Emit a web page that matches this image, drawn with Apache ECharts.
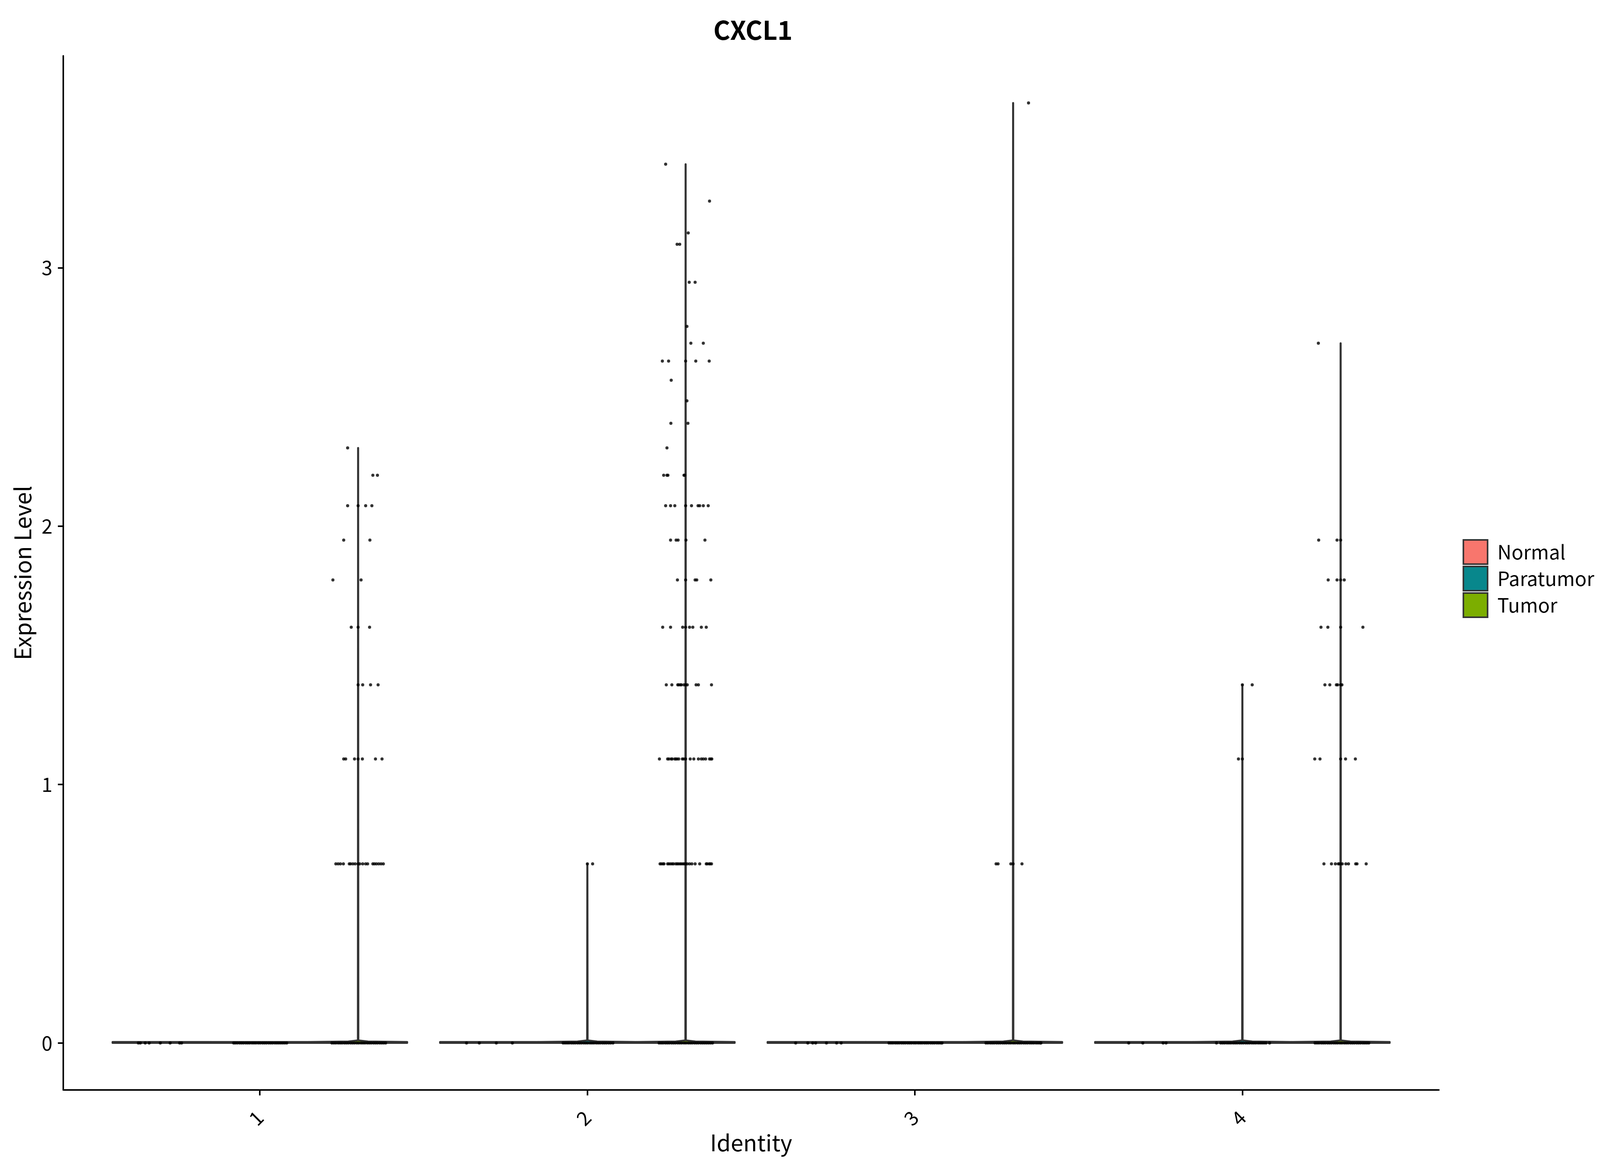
<!DOCTYPE html>
<html>
<head>
<meta charset="utf-8">
<title>CXCL1</title>
<script src="https://cdn.jsdelivr.net/npm/echarts@6/dist/echarts.min.js"></script>
<style>
    html, body { margin: 0; padding: 0; background: #fff; overflow: hidden; }
    #chart { width: 100vw; height: 100vh; }
</style>
</head>
<body>
<div id="chart"></div>
<script>
// 分組與顏色
var identities = ['1', '2', '3', '4'];
var groups = ['Normal', 'Paratumor', 'Tumor'];
var groupColors = ['#F8766D', '#08878C', '#7CAE00'];
var yTicks = [0, 1, 2, 3];

// 每個 violin 的最大值 (identity 1..4)
var maxNormal = [0, 0, 0, 0];
var maxParatumor = [0, 0.693, 0, 1.386];
var maxTumor = [2.303, 3.401, 3.638, 2.708];

// 散點: [表達量, [水平抖動...]]
var pts1Normal = [
    [0, [-0.071, -0.065, -0.050, -0.038, -0.004, 0.026, 0.055, 0.061]]
];
var pts1Paratumor = [
    [0, [-0.080, -0.075, -0.069, -0.062, -0.056, -0.050, -0.043, -0.037, -0.031, -0.024, -0.018, -0.012,
         -0.005, 0.001, 0.008, 0.014, 0.020, 0.027, 0.033, 0.039, 0.046, 0.052, 0.058, 0.064, 0.070, 0.076, 0.082]]
];
var pts1Tumor = [
    [2.303, [-0.032]],
    [2.197, [0.045, 0.059]],
    [2.079, [-0.032, 0, 0.023, 0.042]],
    [1.946, [-0.044, 0.036]],
    [1.792, [-0.077, 0.009]],
    [1.609, [-0.021, 0, 0.035]],
    [1.386, [0, 0.014, 0.038, 0.061]],
    [1.099, [-0.044, -0.038, -0.011, 0, 0.013, 0.053, 0.073]],
    [0.693, [-0.068, -0.061, -0.054, -0.045, -0.027, -0.023, -0.016, -0.009, 0, 0.005, 0.014, 0.023,
             0.029, 0.045, 0.050, 0.056, 0.063, 0.070, 0.077]],
    [0, [-0.080, -0.074, -0.068, -0.061, -0.055, -0.049, -0.042, -0.036, -0.030, -0.023, -0.017, -0.011,
         -0.004, 0.002, 0.009, 0.015, 0.021, 0.028, 0.034, 0.040, 0.047, 0.053, 0.059, 0.066, 0.072, 0.078, 0.084]]
];
var pts2Normal = [
    [0, [-0.069, -0.030, 0.022, 0.071]]
];
var pts2Paratumor = [
    [0.693, [0, 0.016]],
    [0, [-0.074, -0.068, -0.062, -0.056, -0.049, -0.043, -0.037, -0.030, -0.024, -0.018, -0.011, -0.005,
         0.001, 0.008, 0.014, 0.020, 0.027, 0.033, 0.039, 0.046, 0.052, 0.058, 0.065, 0.071, 0.078]]
];
var pts2Tumor = [
    [3.401, [-0.061]],
    [3.258, [0.073]],
    [3.135, [0.008]],
    [3.091, [-0.026, -0.018]],
    [2.944, [0.011, 0.029]],
    [2.773, [0.004]],
    [2.708, [0.016, 0.054]],
    [2.639, [-0.071, -0.052, 0, 0.031, 0.072]],
    [2.565, [-0.044]],
    [2.485, [0.004]],
    [2.398, [-0.045, 0.007]],
    [2.303, [-0.057]],
    [2.197, [-0.067, -0.057, -0.054, -0.005, -0.003]],
    [2.079, [-0.061, -0.046, -0.033, 0, 0.018, 0.038, 0.043, 0.054, 0.069]],
    [1.946, [-0.046, -0.029, -0.023, 0.001, 0.059]],
    [1.792, [-0.025, 0, 0.029, 0.034, 0.077]],
    [1.609, [-0.070, -0.046, -0.009, 0, 0.012, 0.022, 0.048, 0.063]],
    [1.386, [-0.059, -0.042, -0.024, -0.021, -0.016, -0.013, -0.005, 0, 0.005, 0.032, 0.039, 0.079]],
    [1.099, [-0.080, -0.055, -0.051, -0.044, -0.041, -0.033, -0.030, -0.026, -0.021, -0.010, -0.006, 0,
             0.014, 0.025, 0.039, 0.048, 0.054, 0.061, 0.073, 0.077, 0.080]],
    [0.693, [-0.078, -0.074, -0.069, -0.066, -0.055, -0.051, -0.046, -0.041, -0.037, -0.030, -0.026, -0.022,
             -0.017, -0.013, -0.008, -0.004, 0, 0.005, 0.012, 0.019, 0.029, 0.043, 0.063, 0.066, 0.072, 0.075, 0.079]],
    [0, [-0.081, -0.075, -0.069, -0.062, -0.056, -0.050, -0.043, -0.037, -0.031, -0.024, -0.018, -0.012,
         -0.005, 0.001, 0.008, 0.014, 0.020, 0.027, 0.033, 0.039, 0.046, 0.052, 0.058, 0.064, 0.070, 0.076, 0.082]]
];
var pts3Normal = [
    [0, [-0.064, -0.027, -0.012, -0.003, 0.030, 0.061, 0.075]]
];
var pts3Paratumor = [
    [0, [-0.079, -0.073, -0.067, -0.060, -0.054, -0.048, -0.041, -0.035, -0.029, -0.022, -0.016, -0.010,
         -0.003, 0.003, 0.010, 0.016, 0.022, 0.029, 0.035, 0.041, 0.048, 0.054, 0.060, 0.067, 0.073, 0.079, 0.083]]
];
var pts3Tumor = [
    [3.638, [0.047]],
    [0.693, [-0.052, -0.046, -0.007, 0, 0.027]],
    [0, [-0.083, -0.077, -0.070, -0.064, -0.058, -0.051, -0.045, -0.039, -0.032, -0.026, -0.020, -0.013,
         -0.007, 0, 0.006, 0.013, 0.019, 0.025, 0.032, 0.038, 0.044, 0.051, 0.057, 0.063, 0.070, 0.076, 0.082, 0.085]]
];
var pts4Normal = [
    [0, [-0.047, -0.004, 0.058, 0.067]]
];
var pts4Paratumor = [
    [1.386, [0, 0.030]],
    [1.099, [-0.012, 0]],
    [0, [-0.079, -0.066, -0.060, -0.054, -0.047, -0.041, -0.035, -0.028, -0.022, -0.016, -0.009, -0.003,
         0.003, 0.010, 0.016, 0.022, 0.029, 0.035, 0.041, 0.048, 0.054, 0.060, 0.066, 0.072, 0.083]]
];
var pts4Tumor = [
    [2.708, [-0.068]],
    [1.946, [-0.067, -0.011, 0]],
    [1.792, [-0.038, -0.011, 0, 0.011]],
    [1.609, [-0.060, -0.039, 0, 0.068]],
    [1.386, [-0.048, -0.033, -0.013, -0.009, 0, 0.004]],
    [1.099, [-0.079, -0.063, 0, 0.015, 0.045]],
    [0.693, [-0.051, -0.028, -0.016, -0.007, -0.004, 0, 0.005, 0.016, 0.024, 0.046, 0.050, 0.078]],
    [0, [-0.078, -0.072, -0.066, -0.059, -0.053, -0.047, -0.040, -0.034, -0.028, -0.021, -0.015, -0.009,
         -0.002, 0.004, 0.011, 0.017, 0.023, 0.030, 0.036, 0.042, 0.049, 0.055, 0.061, 0.068, 0.074, 0.080, 0.086]]
];

var cellPoints = [
    [pts1Normal, pts1Paratumor, pts1Tumor],
    [pts2Normal, pts2Paratumor, pts2Tumor],
    [pts3Normal, pts3Paratumor, pts3Tumor],
    [pts4Normal, pts4Paratumor, pts4Tumor]
];
var groupMax = [maxNormal, maxParatumor, maxTumor];

var dodge = 0.3;      // 每組偏移
var halfWidth = 0.15; // violin 半寬
var fontFamily = '"Noto Sans CJK SC", "Noto Sans", sans-serif';

function groupCenter(i, g) {
    return (i + 1) + (g - 1) * dodge;
}

// 散點資料
var scatterData = [];
cellPoints.forEach(function (row, i) {
    row.forEach(function (cell, g) {
        var cx = groupCenter(i, g);
        cell.forEach(function (level) {
            level[1].forEach(function (dx) {
                scatterData.push([cx + dx, level[0]]);
            });
        });
    });
});

// violin 形狀 (幾乎全部為 0, 只剩底線與細柱)
function renderViolin(params, api) {
    var cx = api.value(0);
    var vmax = api.value(1);
    var pts;
    if (vmax > 0) {
        pts = [
            [cx - halfWidth, 0], [cx + halfWidth, 0], [cx + halfWidth, 0.004],
            [cx + 0.03, 0.006], [cx + 0.001, 0.010], [cx + 0.0004, vmax],
            [cx - 0.0004, vmax], [cx - 0.001, 0.010], [cx - 0.03, 0.006],
            [cx - halfWidth, 0.004]
        ];
    } else {
        pts = [
            [cx - halfWidth, 0], [cx + halfWidth, 0],
            [cx + halfWidth, 0.004], [cx - halfWidth, 0.004]
        ];
    }
    return {
        type: 'polygon',
        shape: { points: pts.map(function (p) { return api.coord(p); }) },
        style: {
            fill: api.visual('color'),
            stroke: '#333333',
            lineWidth: 4.5,
            lineJoin: 'round'
        }
    };
}

var violinSeries = groups.map(function (name, g) {
    return {
        name: name,
        type: 'custom',
        renderItem: renderViolin,
        itemStyle: { color: groupColors[g] },
        encode: { x: 0, y: 1 },
        data: groupMax[g].map(function (m, i) { return [groupCenter(i, g), m]; }),
        z: 2,
        silent: true
    };
});

var chart = echarts.init(document.getElementById('chart'));
var option = {
    backgroundColor: '#ffffff',
    animation: false,
    title: {
        text: 'CXCL1',
        left: '46.94%',
        top: '1.3%',
        textAlign: 'center',
        textStyle: { fontFamily: fontFamily, fontSize: 66, fontWeight: 'bold', color: '#000' }
    },
    legend: {
        data: groups,
        orient: 'vertical',
        left: '91.29%',
        top: '45.83%',
        itemWidth: 62,
        itemHeight: 62,
        itemGap: 2,
        icon: 'rect',
        itemStyle: { borderColor: '#333333', borderWidth: 4 },
        textStyle: { fontFamily: fontFamily, fontSize: 50, color: '#000', padding: [0, 0, 0, 20] },
        selectedMode: false
    },
    grid: { left: '3.96%', right: '10.07%', top: '4.77%', bottom: '7%' },
    xAxis: {
        type: 'value',
        min: 0.4,
        max: 4.6,
        name: 'Identity',
        nameLocation: 'middle',
        nameGap: 95,
        nameTextStyle: { fontFamily: fontFamily, fontSize: 58, color: '#000' },
        axisLine: { show: true, onZero: false, lineStyle: { color: '#000', width: 4 } },
        axisTick: { show: true, length: 14, customValues: [1, 2, 3, 4], lineStyle: { color: '#000', width: 4 } },
        axisLabel: {
            customValues: [1, 2, 3, 4],
            formatter: function (v) { return identities[Math.round(v) - 1]; },
            rotate: 45,
            margin: 62,
            fontFamily: fontFamily,
            fontSize: 50,
            color: '#000'
        },
        splitLine: { show: false }
    },
    yAxis: {
        type: 'value',
        min: -0.182,
        max: 3.82,
        name: 'Expression Level',
        nameLocation: 'middle',
        nameRotate: 90,
        nameGap: 75,
        nameTextStyle: { fontFamily: fontFamily, fontSize: 58, color: '#000' },
        axisLine: { show: true, onZero: false, lineStyle: { color: '#000', width: 4 } },
        axisTick: { show: true, length: 14, customValues: yTicks, lineStyle: { color: '#000', width: 4 } },
        axisLabel: {
            customValues: yTicks,
            margin: 28,
            fontFamily: fontFamily,
            fontSize: 50,
            color: '#000'
        },
        splitLine: { show: false }
    },
    series: violinSeries.concat([
        {
            name: 'cells',
            type: 'scatter',
            data: scatterData,
            symbol: 'circle',
            symbolSize: 8,
            itemStyle: { color: '#000000' },
            z: 3,
            silent: true
        }
    ])
};
chart.setOption(option);

window.addEventListener('resize', function () {
    chart.resize();
});
</script>
</body>
</html>
